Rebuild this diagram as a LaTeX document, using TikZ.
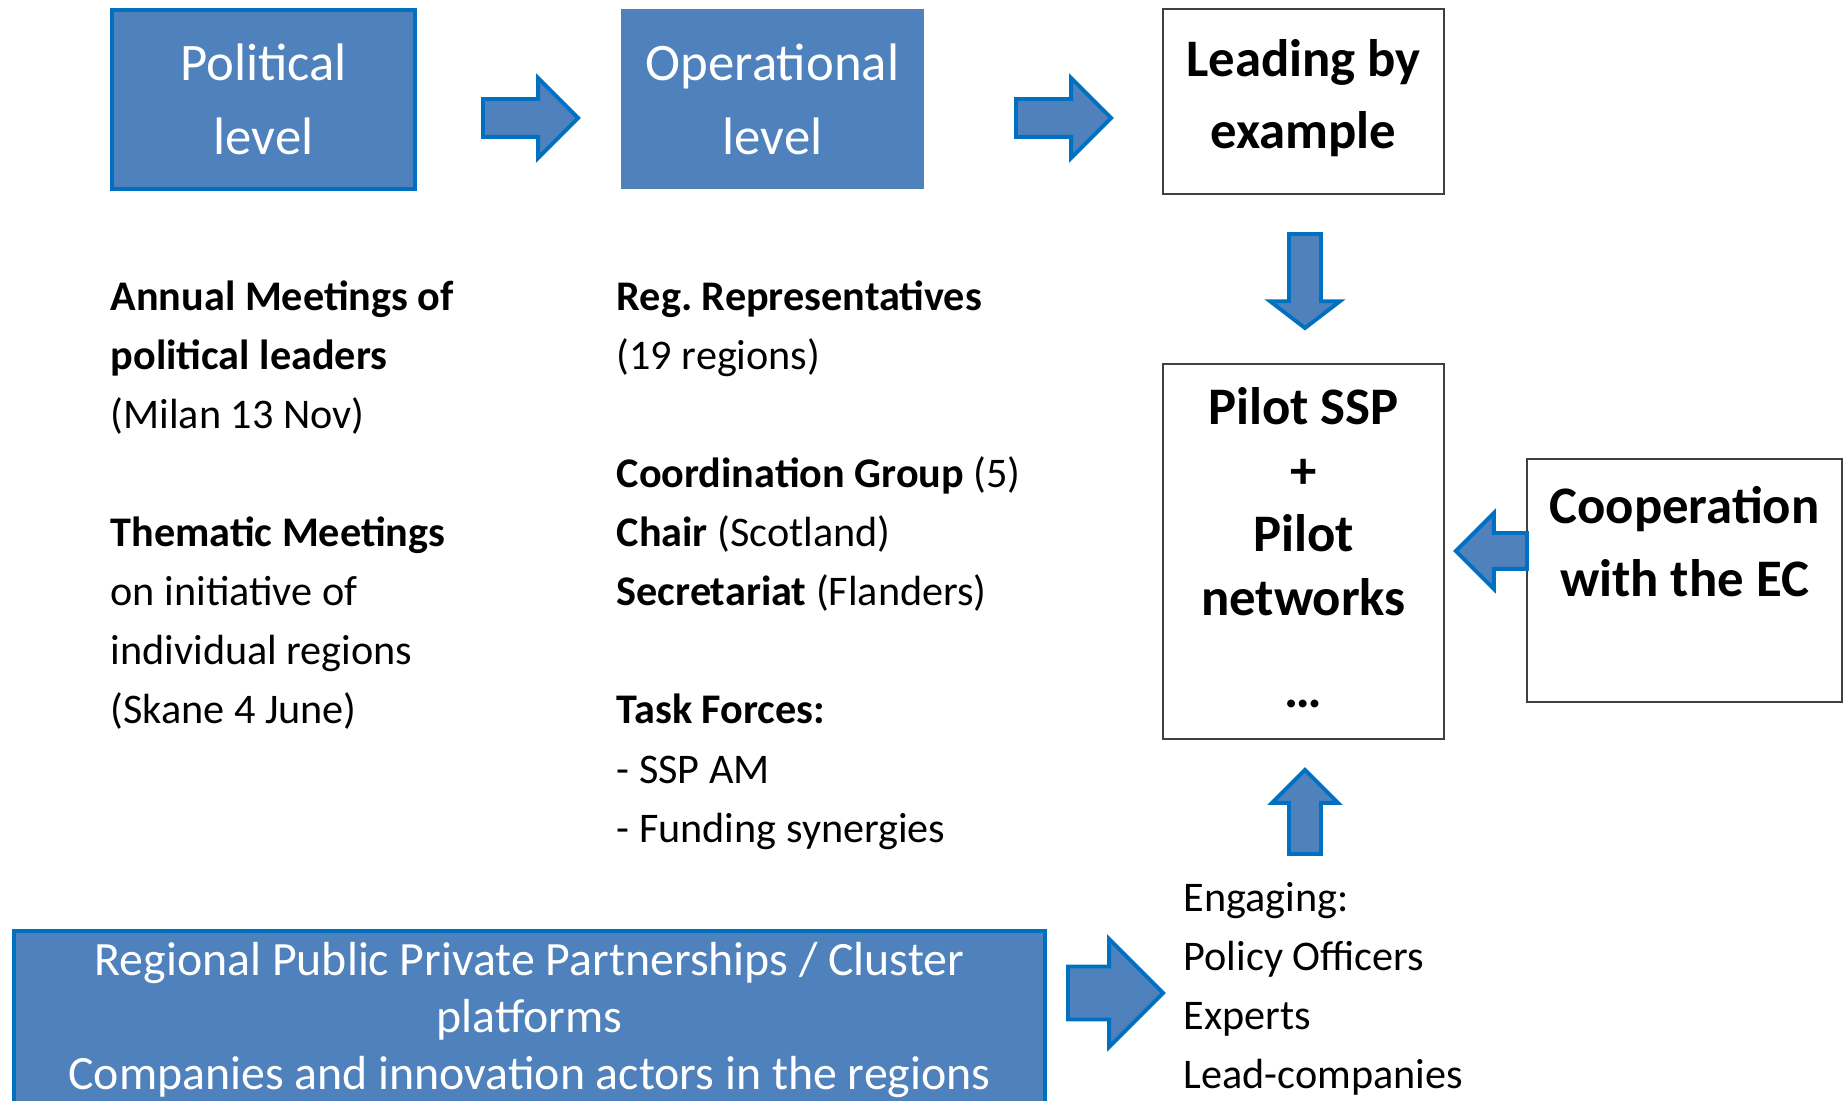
\documentclass[tikz,border=0pt]{standalone}
\usepackage{fontspec}
\setmainfont{Carlito}
\usetikzlibrary{shapes.arrows}
\definecolor{boxblue}{RGB}{79,129,189}
\definecolor{lineblue}{RGB}{0,112,192}
\definecolor{boxgray}{RGB}{64,64,64}
\tikzstyle{levelbox}=[rectangle,fill=boxblue,text=white,align=center,inner sep=0pt,font=\fontsize{15}{21}\selectfont]
\tikzstyle{whitebox}=[rectangle,draw=boxgray,line width=.6pt,align=center,inner sep=0pt,font=\bfseries\fontsize{15}{20.5}\selectfont]
\tikzstyle{blockarrow}=[single arrow,draw=lineblue,fill=boxblue,line width=1.1pt,inner sep=0pt,outer sep=0pt,text depth=0pt,anchor=tail]
\tikzstyle{txt}=[align=left,anchor=north west,inner sep=0pt,font=\fontsize{12}{16.8}\selectfont]

\begin{document}
\frenchspacing
\begin{tikzpicture}[x=0.01cm,y=-0.01cm]
\useasboundingbox (0,0) rectangle (1847,1101);
\clip (0,0) rectangle (1847,1101);
% top row
\node[levelbox,draw=lineblue,line width=1.1pt,minimum width=3.03cm,minimum height=1.79cm] (pol) at (263.5,99.5) {Political\\level};
\node[levelbox,minimum width=3.03cm,minimum height=1.80cm] (op) at (772.5,99) {Operational\\level};
\node[whitebox,text depth=4.3pt,minimum width=2.81cm,minimum height=1.85cm] (lead) at (1303.5,101.5) {Leading by\\example};
\node[blockarrow,text height=.34cm,single arrow head extend=.21cm,minimum height=.95cm] (a1) at (483,118) {};
\node[blockarrow,text height=.34cm,single arrow head extend=.21cm,minimum height=.95cm] (a2) at (1016,118) {};
% right column
\node[blockarrow,rotate=-90,text height=.28cm,single arrow head extend=.19cm,single arrow tip angle=105,minimum height=.94cm] (a3) at (1305,234) {};
\node[whitebox,font=\bfseries\fontsize{15}{18.1}\selectfont,text depth=2.3pt,minimum width=2.81cm,minimum height=3.75cm] (pilot) at (1303.5,551.5) {Pilot SSP\\+\\Pilot\\networks\\[8pt]…};
\node[whitebox,font=\bfseries\fontsize{15}{20.8}\selectfont,text depth=1.5pt,minimum width=3.15cm,minimum height=2.43cm] (coop) at (1684.5,580.5) {Cooperation\\with the EC\\~};
\node[blockarrow,rotate=180,text height=.32cm,single arrow head extend=.20cm,minimum height=.71cm] (a4) at (1527,551) {};
\node[blockarrow,rotate=90,text height=.28cm,single arrow head extend=.17cm,minimum height=.84cm] (a5) at (1305,854) {};
% text columns
\node[txt] (polt) at (110,280) {\textbf{Annual Meetings of}\\\textbf{political leaders}\\(Milan 13 Nov)\\[16.8pt]\textbf{Thematic Meetings}\\on initiative of\\individual regions\\(Skane 4 June)};
\node[txt] (opt) at (616,280) {\textbf{Reg. Representatives}\\(19 regions)\\[16.8pt]\textbf{Coordination Group} (5)\\\textbf{Chair} (Scotland)\\\textbf{Secretariat} (Flanders)\\[16.8pt]\textbf{Task Forces:}\\- SSP AM\\- Funding synergies};
\node[txt] (eng) at (1183,882) {Engaging:\\Policy Officers\\Experts\\Lead-companies};
% bottom
\node[levelbox,draw=lineblue,line width=1.1pt,minimum width=10.31cm,anchor=north,inner ysep=.11cm,font=\fontsize{13.6}{16.3}\selectfont] (ppp) at (529.5,929) {Regional Public Private Partnerships / Cluster\\platforms\\Companies and innovation actors in the regions};
\node[blockarrow,text height=.49cm,single arrow head extend=.275cm,minimum height=.95cm] (a6) at (1068,993) {};
\end{tikzpicture}
\end{document}
